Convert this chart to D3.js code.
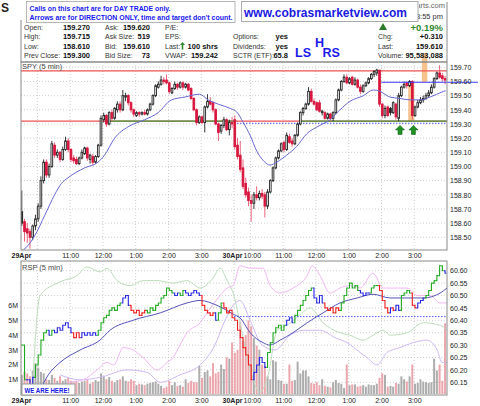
<!DOCTYPE html>
<html>
<head>
<meta charset="utf-8">
<script src="https://cdn.jsdelivr.net/npm/d3@7"></script>
<style>
  body { margin: 0; background: #fff; }
  svg { display: block; font-family: "Liberation Sans", Arial, sans-serif; }
</style>
</head>
<body>
<div class="canvas"></div>
<script>
// ---- data: SPY 5 min, 29 Apr + 30 Apr (78 bars each) ----
const spyOpen = [
  158.68,158.61,158.56,158.54,158.50,158.58,158.63,158.72,158.90,159.03,
  158.94,159.00,159.15,159.08,159.10,159.05,159.12,159.18,159.12,159.06,
  159.05,159.02,159.06,159.09,159.13,159.05,159.07,159.03,159.07,159.15,
  159.33,159.36,159.30,159.38,159.34,159.40,159.44,159.40,159.49,159.50,
  159.45,159.40,159.36,159.38,159.37,159.38,159.37,159.40,159.44,159.50,
  159.56,159.58,159.61,159.61,159.59,159.52,159.55,159.58,159.56,159.59,
  159.56,159.58,159.55,159.48,159.40,159.31,159.35,159.31,159.42,159.46,
  159.45,159.40,159.30,159.25,159.29,159.33,159.26,159.31,
  159.33,159.15,159.08,158.99,158.88,158.82,158.76,158.74,158.80,158.78,
  158.81,158.80,158.72,158.82,158.90,158.99,159.06,159.11,159.17,159.12,
  159.21,159.18,159.16,159.22,159.30,159.38,159.41,159.44,159.53,159.46,
  159.45,159.45,159.38,159.38,159.34,159.37,159.34,159.38,159.47,159.54,
  159.60,159.63,159.59,159.63,159.58,159.61,159.56,159.53,159.57,159.59,
  159.62,159.65,159.66,159.68,159.44,159.36,159.42,159.41,159.38,159.44,
  159.34,159.50,159.56,159.59,159.57,159.60,159.36,159.42,159.45,159.47,
  159.48,159.50,159.52,159.56,159.62,159.66,159.64,159.62
];
const spyHigh = [
  158.83,158.63,158.60,158.56,158.59,158.66,158.74,158.93,159.05,159.05,
  159.02,159.18,159.17,159.12,159.11,159.14,159.21,159.20,159.13,159.08,
  159.07,159.07,159.12,159.14,159.14,159.09,159.09,159.08,159.16,159.36,
  159.38,159.37,159.39,159.40,159.42,159.46,159.46,159.54,159.52,159.51,
  159.46,159.41,159.39,159.39,159.39,159.40,159.41,159.45,159.51,159.58,
  159.60,159.64,159.63,159.65,159.60,159.56,159.60,159.59,159.60,159.60,
  159.59,159.59,159.56,159.49,159.41,159.36,159.36,159.43,159.51,159.49,
  159.46,159.41,159.31,159.30,159.35,159.34,159.33,159.35,
  159.36,159.20,159.18,159.05,158.92,158.85,158.80,158.82,158.86,158.83,
  158.84,158.82,158.84,158.91,159.00,159.07,159.12,159.17,159.18,159.24,
  159.23,159.20,159.23,159.31,159.39,159.42,159.45,159.56,159.55,159.48,
  159.46,159.47,159.40,159.39,159.38,159.38,159.39,159.48,159.55,159.61,
  159.65,159.65,159.63,159.64,159.63,159.62,159.58,159.58,159.60,159.63,
  159.66,159.68,159.69,159.68,159.45,159.43,159.43,159.42,159.46,159.45,
  159.52,159.57,159.60,159.60,159.61,159.61,159.43,159.47,159.49,159.50,
  159.52,159.54,159.58,159.63,159.67,159.715,159.66,159.64
];
const spyLow = [
  158.58,158.47,158.46,158.42,158.48,158.55,158.61,158.70,158.88,158.92,
  158.92,158.99,159.06,159.06,159.03,159.04,159.11,159.10,159.03,159.02,
  159.01,159.01,159.05,159.08,159.04,159.02,159.01,159.02,159.06,159.14,
  159.31,159.28,159.29,159.32,159.33,159.38,159.38,159.39,159.46,159.43,
  159.38,159.35,159.35,159.35,159.36,159.36,159.36,159.39,159.43,159.49,
  159.55,159.57,159.58,159.58,159.51,159.51,159.54,159.54,159.55,159.54,
  159.55,159.53,159.47,159.39,159.29,159.30,159.30,159.24,159.41,159.43,
  159.38,159.29,159.18,159.23,159.27,159.25,159.22,159.27,
  159.12,159.05,158.96,158.84,158.78,158.72,158.61,158.70,158.76,158.76,
  158.77,158.64,158.70,158.81,158.89,158.98,159.05,159.10,159.10,159.11,
  159.16,159.14,159.15,159.21,159.29,159.36,159.40,159.43,159.45,159.43,
  159.39,159.38,159.36,159.33,159.33,159.32,159.32,159.37,159.46,159.53,
  159.59,159.58,159.58,159.57,159.57,159.55,159.51,159.52,159.56,159.58,
  159.61,159.63,159.64,159.42,159.34,159.34,159.35,159.36,159.37,159.33,
  159.32,159.49,159.55,159.55,159.56,159.33,159.35,159.41,159.44,159.45,
  159.47,159.49,159.51,159.55,159.61,159.62,159.60,159.58
];
const spyClose = [
  158.60,158.54,158.53,158.50,158.58,158.63,158.72,158.90,159.03,158.94,
  159.00,159.16,159.08,159.10,159.05,159.12,159.18,159.12,159.05,159.04,
  159.02,159.06,159.10,159.13,159.06,159.08,159.03,159.07,159.15,159.34,
  159.36,159.30,159.38,159.34,159.41,159.44,159.40,159.50,159.50,159.45,
  159.40,159.37,159.38,159.37,159.38,159.37,159.40,159.44,159.50,159.57,
  159.58,159.61,159.60,159.59,159.53,159.55,159.58,159.56,159.59,159.56,
  159.58,159.54,159.48,159.40,159.31,159.35,159.31,159.42,159.46,159.44,
  159.40,159.30,159.24,159.29,159.33,159.26,159.31,159.30,
  159.14,159.07,158.98,158.86,158.80,158.76,158.74,158.80,158.78,158.81,
  158.79,158.72,158.82,158.90,158.99,159.06,159.11,159.16,159.12,159.22,
  159.17,159.16,159.22,159.30,159.38,159.41,159.44,159.53,159.46,159.44,
  159.40,159.39,159.39,159.34,159.37,159.34,159.38,159.47,159.54,159.60,
  159.63,159.59,159.62,159.58,159.61,159.56,159.53,159.57,159.59,159.62,
  159.65,159.67,159.68,159.44,159.36,159.41,159.36,159.38,159.45,159.35,
  159.50,159.56,159.58,159.57,159.60,159.36,159.42,159.45,159.47,159.48,
  159.50,159.52,159.56,159.62,159.66,159.63,159.62,159.61
];
// volume in millions of shares
const spyVolume = [
  1.3,1.5,1.4,1.2,1.6,2.1,1.8,1.5,1.4,1.0,
  0.95,1.3,1.1,0.9,1.2,0.9,1.0,1.1,0.9,0.8,
  0.9,0.75,0.85,0.9,1.0,0.7,0.8,0.95,0.85,1.4,
  1.2,1.0,1.15,0.9,0.8,0.95,1.0,1.2,0.9,0.85,
  1.0,0.9,0.6,0.7,0.65,0.6,0.7,0.75,0.8,0.85,
  0.7,0.55,0.4,0.5,0.9,0.6,0.8,0.55,0.6,0.5,
  1.0,0.75,0.9,0.8,0.8,1.9,1.1,1.5,1.6,1.2,
  2.1,1.4,1.5,2.0,1.7,2.5,2.4,3.5,
  2.8,3.0,4.9,3.6,4.0,5.0,4.6,3.8,3.3,3.0,
  2.0,1.9,1.2,1.0,2.3,2.2,0.95,0.9,0.7,0.7,
  2.0,0.9,0.95,2.2,1.4,1.6,1.6,1.2,0.75,0.7,
  0.8,0.6,1.0,0.55,0.5,0.45,0.8,0.95,0.75,0.7,
  0.4,2.0,0.6,0.65,0.65,0.5,0.55,0.6,0.5,0.65,
  0.6,0.6,0.7,1.1,1.4,1.3,0.5,0.55,0.5,0.75,
  0.7,1.2,1.0,0.85,1.2,2.0,0.7,0.75,1.0,0.85,
  0.8,0.75,0.8,2.4,1.6,2.0,0.9,4.8
];
// RSP 5 min closes and bar colours (g / r / b)
const rspClose = [
  60.30,60.16,60.16,60.14,60.17,60.22,60.26,60.32,60.35,60.36,
  60.34,60.36,60.35,60.37,60.36,60.38,60.39,60.37,60.35,60.33,
  60.35,60.33,60.35,60.34,60.35,60.34,60.35,60.34,60.36,60.39,
  60.41,60.42,60.44,60.45,60.44,60.46,60.47,60.49,60.50,60.46,
  60.44,60.43,60.44,60.42,60.43,60.44,60.43,60.45,60.44,60.46,
  60.47,60.49,60.50,60.53,60.52,60.51,60.50,60.51,60.50,60.52,
  60.51,60.50,60.51,60.52,60.51,60.50,60.46,60.44,60.43,60.42,
  60.43,60.40,60.43,60.47,60.45,60.43,60.44,60.41,
  60.40,60.36,60.33,60.29,60.26,60.22,60.16,60.19,60.22,60.25,
  60.23,60.21,60.27,60.31,60.35,60.37,60.38,60.36,60.38,60.40,
  60.41,60.39,60.42,60.44,60.46,60.48,60.50,60.52,60.53,60.49,
  60.47,60.50,60.47,60.45,60.44,60.45,60.43,60.45,60.44,60.47,
  60.50,60.53,60.55,60.53,60.54,60.52,60.51,60.50,60.51,60.51,
  60.53,60.54,60.54,60.52,60.48,60.45,60.43,60.45,60.44,60.46,
  60.44,60.50,60.51,60.52,60.51,60.46,60.45,60.47,60.48,60.49,
  60.50,60.52,60.55,60.56,60.58,60.62,60.60,60.59
];
const rspColor = (
  'ggbbbggggg' + 'bgbbbbbbbr' + 'rrbbbbbbgg' + 'gggggggbbb' + 'rrrrrrgggg' +
  'ggggggbbgg' + 'bbbbbbrrrr' + 'rbggrrrr' +
  'rrrrrrrbbb' + 'bbgggggggb' + 'bbgggggggb' + 'bbbrrrrrrg' + 'ggggggbbbb' +
  'gggrrrrbrb' + 'bggggrrbbb' + 'gggggggb'
).split('');

// overlay lines: [bar index, value]
const spySma = [[0,158.40],[2,158.43],[5,158.51],[8.7,158.655],[12.3,158.80],[14.8,158.88],[17.2,158.92],
  [23.3,158.99],[28.2,159.03],[30.6,159.08],[34.3,159.20],[39.2,159.28],[45.3,159.33],[50.2,159.38],
  [55.1,159.47],[60,159.49],[65.4,159.51],[68.5,159.47],[72.2,159.44],[76.6,159.41],[79,159.385],
  [81.4,159.31],[83.9,159.22],[86.3,159.11],[88.8,159.04],[91.2,159.01],[93.6,159.03],[97.3,159.08],
  [100.9,159.14],[104.6,159.23],[109.5,159.29],[113.2,159.33],[116.8,159.40],[120.5,159.46],[125.4,159.50],
  [129,159.54],[131.5,159.53],[135.1,159.49],[138.8,159.48],[142.5,159.47],[146.1,159.47],[149.8,159.49],
  [154.7,159.53],[155.5,159.535]];
const rspSma = [[5,60.08],[7,60.12],[10,60.18],[14.3,60.23],[21.6,60.28],[28.9,60.32],[32.6,60.36],[41,60.40],
  [51,60.43],[60.8,60.47],[65.6,60.48],[71.8,60.46],[77.7,60.425],[80.2,60.41],[83.9,60.35],[88.6,60.31],
  [91.2,60.30],[94.9,60.32],[99.6,60.35],[104.8,60.39],[110.6,60.43],[116.8,60.47],[123.1,60.49],
  [128.9,60.505],[135.2,60.49],[141.4,60.49],[147.3,60.49],[153.5,60.51],[156,60.53]];
const paleGreen = [[4,60.09],[7,60.50],[14.3,60.555],[20.5,60.58],[24.2,60.615],[29,60.595],[31.5,60.61],
  [35.2,60.56],[40,60.54],[44.7,60.56],[49.8,60.56],[55.7,60.55],[60.8,60.56],[65.6,60.53],[70.3,60.57],
  [72.9,60.61],[75.5,60.56],[77.7,60.51],[80,60.40],[84,60.20],[87.5,60.11],[90.5,60.18],[93.8,60.36],
  [97.4,60.38],[102,60.42],[105.9,60.45],[110.6,60.39],[116.8,60.35],[120.5,60.34],[125.3,60.32],
  [129,60.34],[132.6,60.36],[135.2,60.34],[141.4,60.35],[147.3,60.39],[153.5,60.38],[156,60.36]];
const pinkLine = [[17,60.15],[22.7,60.16],[27.8,60.20],[31.5,60.23],[34,60.22],[37.4,60.29],[41,60.28],
  [44.7,60.25],[49.8,60.20],[53.5,60.23],[55.7,60.25],[58.2,60.30],[60.8,60.35],[65.6,60.39],[68.1,60.43],
  [72.9,60.50],[75.5,60.53],[77.7,60.54],[80.2,60.62],[83.9,60.61],[88.6,60.61],[91.2,60.54],[94.9,60.51],
  [99.6,60.53],[104.8,60.58],[106.6,60.62],[109.5,60.58],[113.2,60.51],[116.8,60.53],[120.5,60.54],
  [124.2,60.53],[128.9,60.59],[132.6,60.53],[137.7,60.53],[141.4,60.53],[145,60.50],[149.8,60.50],
  [153.5,60.47],[156,60.47]];
const lavenderLine = [[14.3,60.18],[21.6,60.16],[29,60.17],[38.8,60.20],[46.2,60.19],[51,60.15],[58.2,60.18],
  [65.6,60.22],[71,60.30],[74.7,60.40],[77.7,60.46],[80.2,60.48],[83.9,60.40],[88.3,60.30],[93,60.28],
  [98.5,60.34],[104,60.36],[109.5,60.36],[115,60.33],[119.4,60.31],[124.2,60.27],[126.7,60.25],
  [130.4,60.22],[134,60.27],[138.8,60.29],[143.6,60.31],[148.7,60.32],[152.4,60.28],[154.2,60.23],[156,60.23]];

// axis ticks
const priceTicks = [159.7,159.6,159.5,159.4,159.3,159.2,159.1,159.0,158.9,158.8,158.7,158.6,158.5];
const rspTicks = [60.60,60.55,60.50,60.45,60.40,60.35,60.30,60.25,60.20,60.15];
const volTicks = [1,2,3,4,5,6];
const hourBars = [6,18,30,42,54,66,78,84,96,108,120,132,144];
const timeBars = [0,18,30,42,54,66,78,84,96,108,120,132,144];
const timeLabels = ['29Apr','11:00','12:00','1:00','2:00','3:00','30Apr','10:00','11:00','12:00','1:00','2:00','3:00'];

// header quote table
const quoteLabels = [
  ['Open:','High:','Low:','Prev Close:'],
  ['Ask:','Ask Size:','Bid:','Bid Size:'],
  ['P/E:','EPS:','Last:','VWAP:'],
  ['','Options:','Dividends:','SCTR (ETF):'],
  ['','Chg:','Last:','Volume:']
];
const quoteValues = [
  ['159.270','159.715','158.610','159.300'],
  ['159.620','519','159.610','73'],
  ['','','100 shrs','159.242'],
  ['','yes','yes','65.8'],
  ['+0.19%','+0.310','159.610','95,583,088']
];
const noteLines = ['Calls on this chart are for DAY TRADE only.', "Arrows are for DIRECTION ONLY, time and target don't count."];

// trend lines & marks (price levels, bar spans)
const resistTop = 159.675, supportLow = 159.32, blueLevel = 159.595, dotLevel = 159.305, rspDotLevel = 60.415;
const greenSpans = [[31, 78.8], [102, 156]];
const bands = [{from: 141.8, to: 144, hi: blueLevel, lo: 159.315}, {from: 146.8, to: 148.8, hi: 159.80, lo: blueLevel}];
const arrowBars = [138.8, 143.7];

// ---- layout ----
const W = 480, H = 406;
const left = 21, right = 447;
const top1 = 62, bot1 = 250, top2 = 261, bot2 = 395;

const svg = d3.select('.canvas')
  .append('svg')
    .attr('width', W)
    .attr('height', H);

svg.append('rect').attr('width', W).attr('height', H).attr('fill', '#fff');

const x = d3.scaleLinear().domain([0, 156]).range([left, right]);
const y = d3.scaleLinear().domain([158.5, 159.7]).range([237.3, 67.3]);
const yRsp = d3.scaleLinear().domain([60.15, 60.60]).range([382.3, 270.7]);
const yVol = d3.scaleLinear().domain([0, 6]).range([394, 305.7]);
const bx = i => x(i) + 0.8;

const defs = svg.append('defs');
defs.append('clipPath').attr('id', 'clip1')
  .append('rect').attr('x', left).attr('y', top1).attr('width', right - left).attr('height', bot1 - top1);
defs.append('clipPath').attr('id', 'clip2')
  .append('rect').attr('x', left).attr('y', top2).attr('width', right - left).attr('height', bot2 - top2);
defs.append('clipPath').attr('id', 'clipLogo')
  .append('rect').attr('x', 419).attr('y', 0).attr('width', 30).attr('height', 12);

const gridColor = '#cfcfcf';

// gridlines
function vGrid(y0, y1) {
  svg.append('g').selectAll('line')
    .data(hourBars)
    .enter().append('line')
      .attr('x1', d => x(d)).attr('x2', d => x(d))
      .attr('y1', y0).attr('y2', y1)
      .attr('stroke', gridColor).attr('stroke-dasharray', '1,2');
}
vGrid(top1, bot1);
vGrid(top2, bot2);

svg.append('g').selectAll('line')
  .data(priceTicks)
  .enter().append('line')
    .attr('x1', left).attr('x2', right)
    .attr('y1', d => y(d)).attr('y2', d => y(d))
    .attr('stroke', gridColor).attr('stroke-dasharray', '1,2');

svg.append('g').selectAll('line')
  .data(rspTicks)
  .enter().append('line')
    .attr('x1', left).attr('x2', right)
    .attr('y1', d => yRsp(d)).attr('y2', d => yRsp(d))
    .attr('stroke', gridColor).attr('stroke-dasharray', '1,2');

// orange highlight bands (drawn under everything else)
svg.append('g').selectAll('rect')
  .data(bands)
  .enter().append('rect')
    .attr('x', d => x(d.from))
    .attr('width', d => x(d.to) - x(d.from))
    .attr('y', d => y(d.hi))
    .attr('height', d => y(d.lo) - y(d.hi))
    .attr('fill', '#f7c28c');

// ---- price panel ----
const p1 = svg.append('g').attr('clip-path', 'url(#clip1)');

p1.append('line')
  .attr('x1', left).attr('x2', right)
  .attr('y1', y(resistTop)).attr('y2', y(resistTop))
  .attr('stroke', '#ee5050').attr('stroke-width', 1.1);
p1.append('line')
  .attr('x1', left).attr('x2', right)
  .attr('y1', y(supportLow)).attr('y2', y(supportLow))
  .attr('stroke', '#ee5050').attr('stroke-width', 1.1);
p1.selectAll('.gseg')
  .data(greenSpans)
  .enter().append('line')
    .attr('x1', d => x(d[0])).attr('x2', d => x(d[1]))
    .attr('y1', y(supportLow)).attr('y2', y(supportLow))
    .attr('stroke', '#3c9a3c').attr('stroke-width', 1.1);
p1.append('line')
  .attr('x1', x(78)).attr('x2', right)
  .attr('y1', y(dotLevel)).attr('y2', y(dotLevel))
  .attr('stroke', '#5a5aff').attr('stroke-width', 1).attr('stroke-dasharray', '1.5,1.5');

const bars = spyClose.map((c, i) => ({
  i, o: spyOpen[i], h: spyHigh[i], l: spyLow[i], c, v: spyVolume[i],
  up: i === 0 ? true : c >= spyClose[i - 1]
}));
const red = '#d8163e';

p1.selectAll('.wick')
  .data(bars)
  .enter().append('line')
    .attr('x1', d => bx(d.i)).attr('x2', d => bx(d.i))
    .attr('y1', d => y(d.h)).attr('y2', d => y(d.l))
    .attr('stroke', d => d.up ? '#222' : '#e8506e')
    .attr('stroke-width', 0.9);

p1.selectAll('.body')
  .data(bars)
  .enter().append('rect')
    .attr('x', d => bx(d.i) - 0.85)
    .attr('width', 1.7)
    .attr('y', d => y(Math.max(d.o, d.c)))
    .attr('height', d => Math.max(0.8, Math.abs(y(d.o) - y(d.c))))
    .attr('fill', d => d.c >= d.o ? '#fff' : (d.up ? '#222' : red))
    .attr('stroke', d => d.up ? '#222' : red)
    .attr('stroke-width', 0.9);

const line = d3.line().x(d => x(d[0])).curve(d3.curveMonotoneX);

p1.append('path')
  .datum(spySma)
  .attr('d', line.y(d => y(d[1])))
  .attr('fill', 'none').attr('stroke', '#6868d2').attr('stroke-width', 1);

// blue line runs past the panel into the axis
svg.append('line')
  .attr('x1', x(132)).attr('x2', 478)
  .attr('y1', y(blueLevel)).attr('y2', y(blueLevel))
  .attr('stroke', '#3a3aff').attr('stroke-width', 1.1);

// green up arrows
const arrowPath = 'M0,0 L4.5,4.5 L2,4.5 L2,9 L-2,9 L-2,4.5 L-4.5,4.5 Z';
svg.append('g').selectAll('path')
  .data(arrowBars)
  .enter().append('path')
    .attr('d', arrowPath)
    .attr('transform', d => `translate(${x(d)}, ${y(159.29)})`)
    .attr('fill', '#1f8f1f').attr('stroke', '#13661a').attr('stroke-width', 0.6);

// ---- lower panel ----
const p2 = svg.append('g').attr('clip-path', 'url(#clip2)');

p2.selectAll('.vol')
  .data(bars)
  .enter().append('rect')
    .attr('x', d => bx(d.i) - 1)
    .attr('width', 2)
    .attr('y', d => yVol(d.v))
    .attr('height', d => yVol(0) - yVol(d.v))
    .attr('fill', d => d.up ? '#adadad' : '#eba7ad');

[[paleGreen, '#bddcbd'], [lavenderLine, '#cdb8f2'], [pinkLine, '#f2b8f2']].forEach(([pts, col]) => {
  p2.append('path')
    .datum(pts)
    .attr('d', line.y(d => yRsp(d[1])))
    .attr('fill', 'none').attr('stroke', col).attr('stroke-width', 1);
});

p2.append('line')
  .attr('x1', x(78)).attr('x2', right)
  .attr('y1', yRsp(rspDotLevel)).attr('y2', yRsp(rspDotLevel))
  .attr('stroke', '#5a5aff').attr('stroke-width', 1).attr('stroke-dasharray', '1.5,1.5');

p2.append('path')
  .datum(rspSma)
  .attr('d', line.y(d => yRsp(d[1])))
  .attr('fill', 'none').attr('stroke', '#5454b8').attr('stroke-width', 1);

const rspCol = {g: '#1eaa1e', r: '#ee1c1c', b: '#2424e0'};
p2.selectAll('.rsp')
  .data(rspClose)
  .enter().append('path')
    .attr('d', (c, i) => {
      const prev = i === 0 ? c : rspClose[i - 1];
      const cx = bx(i);
      return `M${cx - 1.3},${yRsp(prev)} H${cx} V${yRsp(c)} H${cx + 1.3}`;
    })
    .attr('fill', 'none')
    .attr('stroke', (c, i) => rspCol[rspColor[i]])
    .attr('stroke-width', 1.1);

// panel borders
[[top1, bot1], [top2, bot2]].forEach(([t, b]) => {
  svg.append('rect')
    .attr('x', left).attr('y', t)
    .attr('width', right - left).attr('height', b - t)
    .attr('fill', 'none').attr('stroke', '#8a8a8a').attr('stroke-width', 1);
});

// panel titles
svg.append('text').attr('x', 22).attr('y', 68.5).text('SPY (5 min)')
  .attr('font-size', 7.5).attr('fill', '#444');
svg.append('text').attr('x', 22).attr('y', 270).text('RSP (5 min)')
  .attr('font-size', 7.5).attr('fill', '#444');

// ---- axes ----
function styleAxis(g) {
  g.select('.domain').remove();
  g.selectAll('text').attr('font-size', 7).attr('fill', '#222')
    .attr('font-family', '"Liberation Sans", Arial, sans-serif');
}
svg.append('g')
  .attr('transform', `translate(${right}, 0)`)
  .call(d3.axisRight(y).tickValues(priceTicks).tickFormat(d3.format('.2f')).tickSize(0).tickPadding(3))
  .call(styleAxis);
svg.append('g')
  .attr('transform', `translate(${right}, 0)`)
  .call(d3.axisRight(yRsp).tickValues(rspTicks).tickFormat(d3.format('.2f')).tickSize(0).tickPadding(3))
  .call(styleAxis);
svg.append('g')
  .attr('transform', `translate(${left}, 0)`)
  .call(d3.axisLeft(yVol).tickValues(volTicks).tickFormat(d => d + 'M').tickSize(0).tickPadding(3))
  .call(styleAxis);
[bot1, bot2].forEach(b => {
  svg.append('g')
    .attr('transform', `translate(0, ${b})`)
    .call(d3.axisBottom(x).tickValues(timeBars).tickFormat((d, k) => timeLabels[k]).tickSize(0).tickPadding(3.5))
    .call(styleAxis)
    .selectAll('text')
      .attr('font-weight', (d, k) => timeLabels[k].includes('Apr') ? 'bold' : 'normal')
      .attr('dx', (d, k) => timeLabels[k] === '30Apr' ? -2 : (timeLabels[k] === '10:00' && k > 6 ? 1.5 : 0));
});

// "WE ARE HERE!" tag
svg.append('rect').attr('x', 22).attr('y', 384).attr('width', 53).attr('height', 11)
  .attr('fill', '#fff').attr('stroke', '#999');
svg.append('text').attr('x', 24.5).attr('y', 392.5).text('WE ARE HERE!')
  .attr('font-size', 7).attr('font-weight', 'bold').attr('fill', '#1818e6')
  .attr('textLength', 45).attr('lengthAdjust', 'spacingAndGlyphs');

// ---- header ----
svg.append('line').attr('x1', left).attr('x2', right).attr('y1', top1).attr('y2', top1).attr('stroke', '#8a8a8a');
svg.append('line').attr('x1', left).attr('x2', left).attr('y1', 20).attr('y2', top1).attr('stroke', '#8a8a8a');
svg.append('line').attr('x1', right).attr('x2', right).attr('y1', 2).attr('y2', top1).attr('stroke', '#8a8a8a');

svg.append('text').attr('x', 1).attr('y', 12).text('S')
  .attr('font-size', 12).attr('font-weight', 'bold').attr('fill', '#222');
// logo text, only its tail shows beside the website box
svg.append('g').attr('clip-path', 'url(#clipLogo)')
  .append('text').attr('x', 445).attr('y', 8).attr('text-anchor', 'end').text('StockCharts.com')
  .attr('font-size', 7.5).attr('fill', '#666');
svg.append('text').attr('x', 443).attr('y', 19).attr('text-anchor', 'end').text('3:55 pm')
  .attr('font-size', 7.5).attr('fill', '#333');

const rowY = [29.5, 39.2, 48.8, 58.4];
const labelX = [24, 105, 165, 233, 378];
const valueX = [90, 150, 218, 288, 443];
quoteLabels.forEach((col, c) => {
  col.forEach((lab, r) => {
    if (lab) svg.append('text').attr('x', labelX[c]).attr('y', rowY[r]).text(lab)
      .attr('font-size', 7).attr('fill', '#333');
    const val = quoteValues[c][r];
    if (!val) return;
    const big = c === 4 && r === 0;
    svg.append('text').attr('x', valueX[c]).attr('y', big ? 30.5 : rowY[r])
      .attr('text-anchor', 'end').text(val)
      .attr('font-size', big ? 9.5 : 7.5).attr('font-weight', 'bold')
      .attr('fill', big ? '#2f8a2f' : '#111');
  });
});
// up arrow before "100 shrs"
svg.append('path').attr('d', 'M182.5,42 L185,45 L183.3,45 L183.3,49.5 L181.7,49.5 L181.7,45 L180,45 Z')
  .attr('fill', '#2f8a2f');
// green triangle
svg.append('path').attr('d', 'M379,30 L387,30 L383,23 Z').attr('fill', '#2c7a2c');

// LS H RS
[['LS', 295, 57], ['H', 315, 46.5], ['RS', 322.5, 57]].forEach(([t, tx, ty]) => {
  svg.append('text').attr('x', tx).attr('y', ty).text(t)
    .attr('font-size', 12.5).attr('font-weight', 'bold').attr('fill', '#1a1ae8');
});

// note box
svg.append('rect').attr('x', 26.5).attr('y', 1.5).attr('width', 208.5).attr('height', 21)
  .attr('fill', '#fff').attr('stroke', '#b5b5b5');
noteLines.forEach((t, k) => {
  svg.append('text').attr('x', 29.5).attr('y', k ? 19.5 : 10.8).text(t)
    .attr('font-size', 7.2).attr('font-weight', 'bold').attr('fill', '#1818ee')
    .attr('textLength', k ? 203 : 141).attr('lengthAdjust', 'spacingAndGlyphs');
});

// website box
svg.append('rect').attr('x', 241.5).attr('y', 1.5).attr('width', 176.5).attr('height', 20)
  .attr('fill', '#fff').attr('stroke', '#aaa');
svg.append('text').attr('x', 244).attr('y', 17).text('www.cobrasmarketview.com')
  .attr('font-size', 12.5).attr('font-weight', 'bold').attr('fill', '#1a1ae0')
  .attr('textLength', 163).attr('lengthAdjust', 'spacingAndGlyphs');
</script>
</body>
</html>
